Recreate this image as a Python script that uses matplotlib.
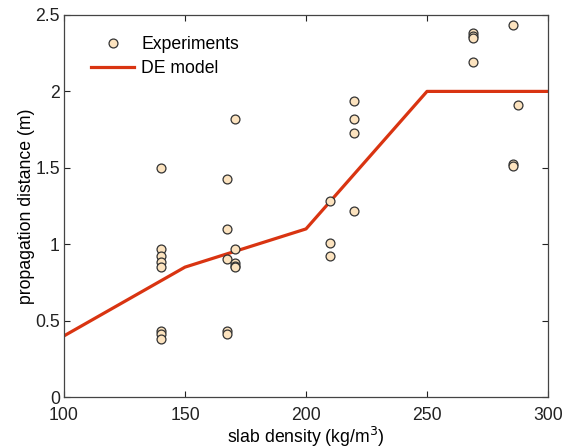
import matplotlib
matplotlib.use("Agg")
import matplotlib.pyplot as plt

plt.rcParams['font.family'] = ['Liberation Sans', 'DejaVu Sans']

# Experiments data
exp_density = [140, 140, 140, 140, 140, 140, 140, 140,
               167.5, 167.5, 167.5, 167.5, 167.5,
               170.5, 170.5, 170.5, 170.5, 170.5,
               210, 210, 210,
               220, 220, 220, 220,
               269, 269, 269, 269,
               285.5, 285.5, 285.5,
               287.5]
exp_distance = [1.50, 0.97, 0.92, 0.885, 0.85, 0.43, 0.41, 0.38,
                1.425, 1.10, 0.90, 0.43, 0.415,
                1.82, 0.97, 0.88, 0.86, 0.85,
                1.285, 1.01, 0.925,
                1.94, 1.82, 1.73, 1.215,
                2.385, 2.365, 2.35, 2.19,
                2.435, 1.525, 1.51,
                1.91]

# DE model
model_density = [100, 150, 200, 250, 300]
model_distance = [0.40, 0.85, 1.10, 2.00, 2.00]

xticks = [100, 150, 200, 250, 300]
yticks = [0, 0.5, 1, 1.5, 2, 2.5]
yticklabels = ['0', '0.5', '1', '1.5', '2', '2.5']

FS = 12.7

fig = plt.figure(figsize=(5.63, 4.48), dpi=100)
ax = fig.add_axes([64/563, 51/448, 484/563, 382/448])

ax.plot(exp_density, exp_distance, linestyle='none', marker='o',
        markersize=6.4, markerfacecolor='#FCE3BF', markeredgecolor='#333333',
        markeredgewidth=0.9, label='Experiments', zorder=3)
ax.plot(model_density, model_distance, color='#D93411', linewidth=2.3,
        label='DE model', zorder=2)

ax.set_xlim(100, 300)
ax.set_ylim(0, 2.5)
ax.set_xticks(xticks)
ax.set_yticks(yticks)
ax.set_yticklabels(yticklabels)
ax.tick_params(direction='in', top=True, right=True, length=4, width=0.8,
               labelsize=FS, colors='#222222', pad=3)
ax.tick_params(axis='x', pad=7)
for s in ax.spines.values():
    s.set_color('#444444')
    s.set_linewidth(0.9)

ax.set_xlabel('slab density (kg/m$^3$)', fontsize=FS, labelpad=1)
ax.set_ylabel('propagation distance (m)', fontsize=FS, labelpad=0)

leg = ax.legend(loc='upper left', frameon=False, fontsize=FS,
                handlelength=2.45, handletextpad=0.4, borderaxespad=0,
                borderpad=0, labelspacing=0.4,
                bbox_to_anchor=(27/484, 1 - 21/382))

fig.savefig('out.png', dpi=100)
